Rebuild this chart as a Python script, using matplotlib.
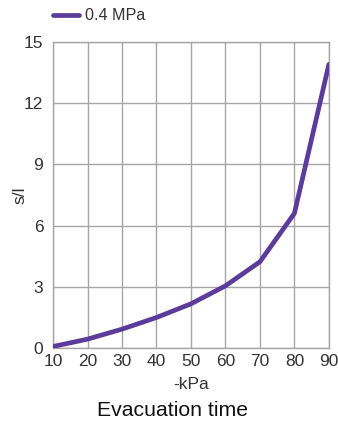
import matplotlib
matplotlib.use('Agg')
import matplotlib.pyplot as plt

plt.rcParams['font.family'] = ['Liberation Sans', 'DejaVu Sans']

pressure = [10, 20, 30, 40, 50, 60, 70, 80, 90]
time_04 = [0.08, 0.44, 0.93, 1.5, 2.17, 3.05, 4.23, 6.6, 13.9]
x_ticks = [10, 20, 30, 40, 50, 60, 70, 80, 90]
y_ticks = [0, 3, 6, 9, 12, 15]

text_col = '#333333'
grid_col = '#a6a6a6'

fig = plt.figure(figsize=(3.38, 4.23), dpi=100)
ax = fig.add_axes([0.157, 0.177, 0.816, 0.724])

ax.plot(pressure, time_04, color='#5b3c9b', linewidth=3.4,
        solid_capstyle='round', label='0.4 MPa', zorder=3)

ax.set_xlim(10, 90)
ax.set_ylim(0, 15)
ax.set_xticks(x_ticks)
ax.set_yticks(y_ticks)
ax.grid(True, color=grid_col, linewidth=1)
for s in ax.spines.values():
    s.set_color(grid_col)
    s.set_linewidth(1)
ax.tick_params(length=0, labelsize=12.5, colors=text_col, pad=4)
ax.tick_params(axis='y', pad=7)

ax.set_xlabel('-kPa', fontsize=12.5, color=text_col, labelpad=6)
ax.set_ylabel('s/l', fontsize=12.5, color=text_col)
ax.yaxis.set_label_coords(-0.094, 0.5)

fig.text(0.512, 0.006, 'Evacuation time', ha='center', va='bottom',
         fontsize=15.3, color='#111111')

ax.legend(loc='center left', bbox_to_anchor=(0.0, 1.085), frameon=False,
          fontsize=11.6, handlelength=1.6, handletextpad=0.4,
          labelcolor=text_col, borderaxespad=0, borderpad=0)

fig.savefig('out.png', dpi=100)
